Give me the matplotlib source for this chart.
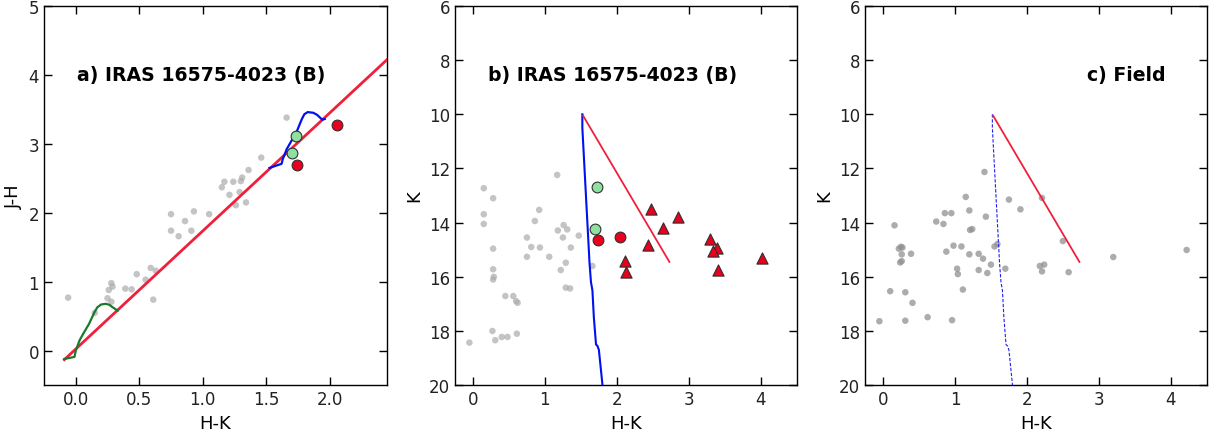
import numpy as np
import matplotlib.pyplot as plt

# ---- panel a: colour-colour diagram ----
a_grey_hk = [-0.06, 0.28, 0.26, 0.29, 0.25, 0.28, 0.15, 0.39, 0.44, 0.48, 0.55, 0.59, 0.63, 0.61,
             0.75, 0.75, 0.81, 0.86, 0.91, 0.93, 1.05, 1.15, 1.17, 1.24, 1.21, 1.26, 1.30, 1.31,
             1.29, 1.34, 1.36, 1.46, 1.66]
a_grey_jh = [0.77, 0.98, 0.88, 0.93, 0.76, 0.71, 0.55, 0.90, 0.89, 1.11, 1.03, 1.20, 1.16, 0.74,
             1.98, 1.74, 1.66, 1.88, 1.74, 2.02, 1.98, 2.37, 2.45, 2.45, 2.26, 2.11, 2.46, 2.51,
             2.30, 2.15, 2.62, 2.80, 3.38]
a_green_hk = [1.73, 1.70]
a_green_jh = [3.12, 2.87]
a_red_hk = [1.74, 2.06]
a_red_jh = [2.70, 3.28]
# dwarf locus
dwarf_hk = [-0.09, -0.01, 0.0, 0.03, 0.06, 0.105, 0.145, 0.17, 0.20, 0.237, 0.265, 0.29, 0.33]
dwarf_jh = [-0.12, -0.09, 0.0, 0.15, 0.25, 0.39, 0.55, 0.63, 0.67, 0.68, 0.665, 0.63, 0.58]
# giant locus
giant_hk = [1.525, 1.62, 1.63, 1.66, 1.70, 1.74, 1.78, 1.80, 1.826, 1.87, 1.90, 1.94, 1.96]
giant_jh = [2.65, 2.71, 2.78, 2.92, 3.05, 3.18, 3.36, 3.43, 3.46, 3.45, 3.42, 3.35, 3.36]
# reddening vector
redvec_hk = [-0.09, 2.45]
redvec_jh = [-0.13, 4.22]

# ---- panel b: colour-magnitude diagram of the cluster ----
b_grey_hk = [-0.05, 0.15, 0.15, 0.15, 0.28, 0.28, 0.28, 0.29, 0.28, 0.45, 0.56, 0.60, 0.62,
             0.27, 0.31, 0.40, 0.48, 0.61, 0.75, 0.75, 0.81, 0.86, 0.92, 0.93, 1.06, 1.17,
             1.18, 1.26, 1.25, 1.31, 1.22, 1.29, 1.29, 1.35, 1.36, 1.47, 1.66]
b_grey_k = [18.43, 12.73, 13.69, 14.05, 13.10, 14.96, 15.72, 16.00, 16.10, 16.71, 16.71, 16.90,
            16.96, 18.00, 18.34, 18.22, 18.22, 18.10, 14.55, 15.26, 14.90, 13.94, 13.53, 14.92,
            15.26, 12.24, 14.29, 14.09, 14.55, 14.25, 15.75, 15.48, 16.40, 16.43, 14.92, 14.48,
            15.60]
b_green_hk = [1.73, 1.70]
b_green_k = [12.69, 14.25]
b_red_hk = [1.74, 2.04]
b_red_k = [14.64, 14.53]
b_tri_hk = [2.48, 2.85, 2.64, 2.43, 2.11, 2.12, 3.30, 3.39, 3.34, 3.41, 4.01]
b_tri_k = [13.51, 13.78, 14.19, 14.83, 15.42, 15.83, 14.62, 14.92, 15.05, 15.75, 15.32]

# ---- panel c: field ----
c_grey_hk = [-0.05, 0.16, 0.10, 0.31, 0.31, 0.41, 0.22, 0.25, 0.27, 0.24, 0.26, 0.26, 0.39,
             0.62, 0.74, 0.84, 0.86, 0.95, 0.88, 0.98, 0.96, 1.03, 1.04, 1.09, 1.11, 1.15,
             1.20, 1.21, 1.24, 1.20, 1.33, 1.33, 1.39, 1.41, 1.43, 1.45, 1.50, 1.55, 1.59,
             1.70, 1.75, 1.91, 2.21, 2.18, 2.21, 2.24, 2.50, 2.58, 3.20, 4.22]
c_grey_k = [17.64, 14.10, 16.53, 16.57, 17.62, 16.96, 14.96, 14.89, 14.92, 15.47, 15.42, 15.17,
            15.15, 17.49, 13.96, 14.05, 13.65, 13.65, 15.07, 14.85, 17.60, 15.70, 15.90, 14.88,
            16.47, 13.05, 13.55, 14.27, 14.24, 15.17, 15.15, 15.75, 15.33, 12.13, 13.78, 15.86,
            15.55, 14.88, 14.79, 15.70, 13.15, 13.51, 13.09, 15.60, 15.80, 15.55, 14.68, 15.83,
            15.27, 15.01]

# isochrone and reddening vector in the CMD
iso_hk = [1.52, 1.52, 1.54, 1.56, 1.58, 1.60, 1.62, 1.64, 1.66, 1.68, 1.71, 1.73, 1.75, 1.80]
iso_k = [10.0, 10.5, 11.5, 12.5, 13.5, 14.5, 15.5, 16.2, 16.5, 17.5, 18.5, 18.55, 18.7, 20.0]
cmd_vec_hk = [1.53, 2.73]
cmd_vec_k = [10.05, 15.45]

grey = '#ababab'
red = '#e8001c'
green = '#8fe0a0'
line_red = '#f0203c'

fig = plt.figure(figsize=(12.12, 4.31), dpi=100)
ax1 = fig.add_axes([0.0363, 0.104, 0.283, 0.880])
ax2 = fig.add_axes([0.3754, 0.104, 0.282, 0.880])
ax3 = fig.add_axes([0.7137, 0.104, 0.282, 0.880])

# panel a
ax1.scatter(a_grey_hk, a_grey_jh, s=22, color=grey, alpha=0.7, edgecolors='none', zorder=2)
ax1.plot(redvec_hk, redvec_jh, '-', color=line_red, lw=2, zorder=3)
ax1.plot(dwarf_hk, dwarf_jh, '-', color='#1a7a2a', lw=1.6, zorder=4)
ax1.plot(giant_hk, giant_jh, '-', color='#0010ee', lw=1.6, zorder=4)
ax1.scatter(a_green_hk, a_green_jh, s=60, color=green, edgecolors='#303030', lw=0.8, zorder=5)
ax1.scatter(a_red_hk, a_red_jh, s=60, color=red, edgecolors='#303030', lw=0.8, zorder=5)
ax1.set_xlim(-0.25, 2.45)
ax1.set_ylim(-0.5, 5)
ax1.set_xticks([0.0, 0.5, 1.0, 1.5, 2.0])
ax1.set_yticks([0, 1, 2, 3, 4, 5])
ax1.set_xlabel('H-K', fontsize=13)
ax1.set_ylabel('J-H', fontsize=13)
ax1.text(0.458, 0.82, 'a) IRAS 16575-4023 (B)', transform=ax1.transAxes,
         ha='center', va='center', fontsize=13.6, fontweight='bold')

# panel b
ax2.scatter(b_grey_hk, b_grey_k, s=22, color=grey, alpha=0.7, edgecolors='none', zorder=2)
ax2.plot(iso_hk, iso_k, '-', color='#0010ee', lw=1.5, zorder=3)
ax2.plot(cmd_vec_hk, cmd_vec_k, '-', color=line_red, lw=1.3, zorder=3)
ax2.scatter(b_green_hk, b_green_k, s=60, color=green, edgecolors='#303030', lw=0.8, zorder=5)
ax2.scatter(b_red_hk, b_red_k, s=60, color=red, edgecolors='#303030', lw=0.8, zorder=5)
ax2.scatter(b_tri_hk, b_tri_k, s=65, marker='^', color=red, edgecolors='#303030', lw=0.8, zorder=5)
ax2.text(0.46, 0.82, 'b) IRAS 16575-4023 (B)', transform=ax2.transAxes,
         ha='center', va='center', fontsize=13.6, fontweight='bold')

# panel c
ax3.scatter(c_grey_hk, c_grey_k, s=22, color='#909090', alpha=0.75, edgecolors='none', zorder=2)
ax3.plot(iso_hk, iso_k, '--', color='#2020ee', lw=0.8, dashes=(3, 1.5), zorder=3)
ax3.plot(cmd_vec_hk, cmd_vec_k, '-', color=line_red, lw=1.3, zorder=3)
ax3.text(0.764, 0.82, 'c) Field', transform=ax3.transAxes,
         ha='center', va='center', fontsize=13.6, fontweight='bold')

for ax in (ax2, ax3):
    ax.set_xlim(-0.25, 4.5)
    ax.set_ylim(20, 6)
    ax.set_xticks([0, 1, 2, 3, 4])
    ax.set_yticks([6, 8, 10, 12, 14, 16, 18, 20])
    ax.set_xlabel('H-K', fontsize=13)
    ax.set_ylabel('K', fontsize=13)

for ax in (ax1, ax2, ax3):
    ax.tick_params(direction='in', top=True, right=True, length=6, width=1,
                   labelsize=12, labelcolor='#222222')
    for sp in ax.spines.values():
        sp.set_linewidth(1)

plt.savefig('out.png', dpi=100)
